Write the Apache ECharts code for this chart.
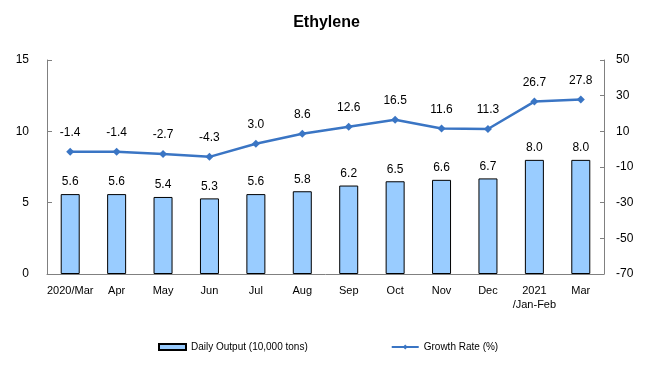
<!DOCTYPE html>
<html><head><meta charset="utf-8">
<script src="https://cdn.jsdelivr.net/npm/echarts@6/dist/echarts.min.js"></script>
<style>html,body{margin:0;padding:0;background:#fff}#c{width:653px;height:390px}</style>
</head><body><div id="c"></div>
<script>
const categories = ['2020/Mar','Apr','May','Jun','Jul','Aug','Sep','Oct','Nov','Dec','2021\n/Jan-Feb','Mar'];
const dailyOutput = [5.6,5.6,5.4,5.3,5.6,5.8,6.2,6.5,6.6,6.7,8.0,8.0];
const growthRate = [-1.4,-1.4,-2.7,-4.3,3.0,8.6,12.6,16.5,11.6,11.3,26.7,27.8];
const leftTicks = [0,15,5];
const rightTicks = [-70,50,20];
const F = 'Arial, "Liberation Sans", sans-serif';
const chart = echarts.init(document.getElementById('c'));
chart.setOption({
  animation:false,
  textStyle:{fontFamily:F},
  title:{text:'Ethylene',left:'center',top:10,textStyle:{fontSize:16,fontWeight:'bold',color:'#000',fontFamily:F}},
  grid:{left:47,right:49,top:60,bottom:116},
  legend:{left:153,top:337,itemWidth:27,itemHeight:6,itemGap:83,
    textStyle:{fontSize:10,color:'#000',fontFamily:F},
    data:[{name:'Daily Output (10,000 tons)',icon:'rect'},{name:'Growth Rate (%)'}]},
  xAxis:{type:'category',data:categories,
    axisLine:{lineStyle:{color:'#808080'}},
    axisTick:{inside:true,length:4,lineStyle:{color:'#808080'}},
    axisLabel:{color:'#000',fontSize:11,margin:10,interval:0,lineHeight:14}},
  yAxis:[
    {type:'value',min:leftTicks[0],max:leftTicks[1],interval:leftTicks[2],
     axisLine:{show:true,lineStyle:{color:'#808080'}},
     axisTick:{show:true,inside:true,length:5,lineStyle:{color:'#808080'}},
     splitLine:{show:false},
     axisLabel:{color:'#000',fontSize:12,margin:18}},
    {type:'value',min:rightTicks[0],max:rightTicks[1],interval:rightTicks[2],
     axisLine:{show:true,lineStyle:{color:'#808080'}},
     axisTick:{show:true,inside:true,length:4,lineStyle:{color:'#808080'}},
     splitLine:{show:false},
     axisLabel:{color:'#000',fontSize:12,margin:12}}
  ],
  series:[
    {name:'Daily Output (10,000 tons)',type:'bar',data:dailyOutput,barWidth:19,
     itemStyle:{color:'#99CCFF',borderColor:'#000',borderWidth:1},
     label:{show:true,position:'top',distance:6,color:'#000',fontSize:12,formatter:p=>p.value.toFixed(1)}},
    {name:'Growth Rate (%)',type:'line',yAxisIndex:1,data:growthRate,
     symbol:'diamond',symbolSize:8,
     lineStyle:{color:'#3A75C4',width:2.5},itemStyle:{color:'#3A75C4'},
     label:{show:true,position:'top',distance:9,color:'#000',fontSize:12,formatter:p=>p.value.toFixed(1)}}
  ]
});
</script></body></html>
